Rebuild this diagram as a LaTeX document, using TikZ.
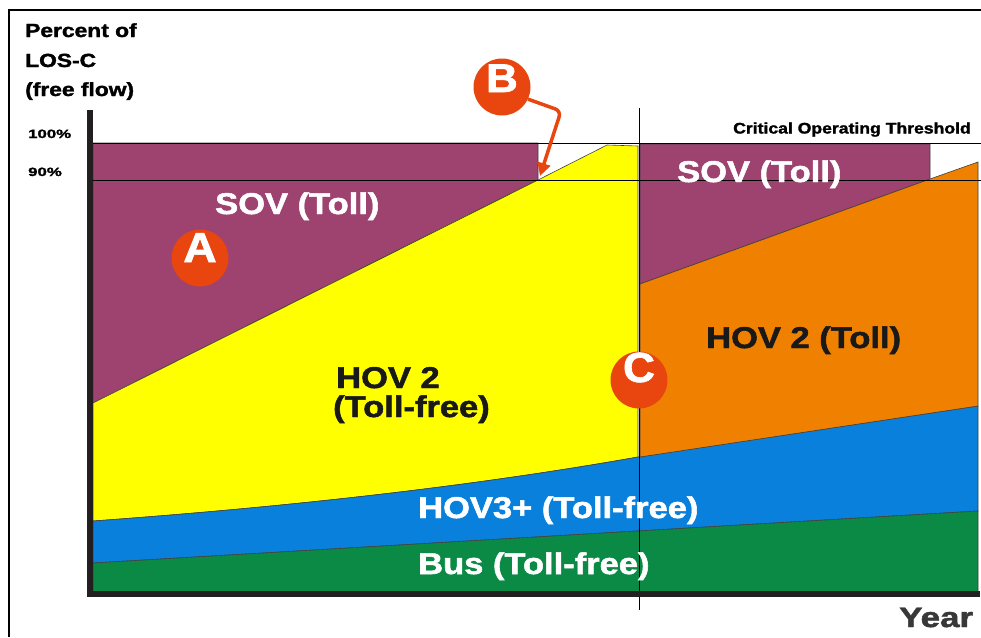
\documentclass[tikz,border=0pt]{standalone}
\usepackage{fontspec}
\setmainfont{Liberation Sans}[BoldFeatures={FakeBold=1.6}]
\usepackage{graphicx}
\usetikzlibrary{arrows.meta}
\definecolor{purp}{HTML}{9E4270}
\definecolor{yell}{HTML}{FFFF00}
\definecolor{oran}{HTML}{F08000}
\definecolor{blu}{HTML}{0880DC}
\definecolor{grn}{HTML}{0B8A45}
\definecolor{redc}{HTML}{E8450F}
\definecolor{axc}{HTML}{231F20}
\newcommand\wl[2]{\scalebox{#1}[1]{#2}}
\newcommand\fs[1]{\fontsize{#1}{#1}\selectfont\bfseries}
\begin{document}
\begin{tikzpicture}[x=1pt,y=-1pt,
  region/.style={draw=black!75,line width=0.6pt},
  thinline/.style={draw=black,line width=0.8pt},
  lbl/.style={inner sep=0pt,anchor=base west},
  badge/.style={circle,fill=redc,minimum size=57pt,inner sep=0pt},
  badgeletter/.style={inner sep=0pt,anchor=base,text=white}]
\useasboundingbox (0,0) rectangle (981,637);
% frame
\draw[line width=1.5pt] (9,637) -- (9,10) -- (981,10);
% regions
\path[region,fill=purp] (93,143) -- (538,143) -- (538,180) -- (93,403) -- cycle;
\path[region,fill=yell] (93,403) -- (538,180) -- (607,145) -- (638,146) -- (638,457)
   .. controls (480,485) and (300,506) .. (93,521) -- cycle;
\path[region,fill=blu] (93,521) .. controls (300,506) and (480,485) .. (638,457)
   -- (978,406) -- (978,511) -- (93,563) -- cycle;
\path[region,fill=grn] (93,563) -- (978,511) -- (978,594) -- (93,594) -- cycle;
\path[region,fill=purp] (640,144) -- (930,144) -- (930,179) -- (640,284) -- cycle;
\path[region,fill=oran] (640,284) -- (930,179) -- (978,162) -- (978,406) -- (640,457) -- cycle;
\draw[line width=1pt,draw=red!60!black] (93,143) -- (538,143);
% threshold lines
\draw[thinline] (93,143) -- (981,143);
\draw[thinline] (93,180) -- (981,180);
\draw[thinline] (639,108) -- (639,610);
% axes
\draw[line width=6pt,draw=axc] (90,110) -- (90,594) -- (980,594);
% axis labels
\node[lbl] (t1) at (25,37) {\fs{19}\wl{1.2}{Percent of}};
\node[lbl] (t2) at (25,67) {\fs{19}\wl{1.2}{LOS-C}};
\node[lbl] (t3) at (25,96) {\fs{19}\wl{1.2}{(free flow)}};
\node[lbl] (p100) at (28,138) {\fs{12}\wl{1.4}{100\%}};
\node[lbl] (p90) at (28,176) {\fs{12}\wl{1.4}{90\%}};
\node[lbl] (cot) at (733,133.5) {\fs{15.3}\wl{1.15}{Critical Operating Threshold}};
\node[lbl,text=black!78] (year) at (899,627) {\fs{28}\wl{1.25}{Year}};
% region labels
\node[lbl,text=white] (sovL) at (215,214) {\fs{30}\wl{1.15}{SOV (Toll)}};
\node[lbl,text=white] (sovR) at (677,182) {\fs{30}\wl{1.15}{SOV (Toll)}};
\node[lbl,text=black!90] (hovA) at (336,388) {\fs{30}\wl{1.15}{HOV 2}};
\node[lbl,text=black!90] (hovB) at (333,417) {\fs{30}\wl{1.15}{(Toll-free)}};
\node[lbl,text=black!90] (hovT) at (706,348) {\fs{30}\wl{1.15}{HOV 2 (Toll)}};
\node[lbl,text=white] (hov3) at (418,518) {\fs{30}\wl{1.15}{HOV3+ (Toll-free)}};
\node[lbl,text=white] (bus) at (418,574) {\fs{30}\wl{1.15}{Bus (Toll-free)}};
% badges
\node[badge] (cA) at (200,258) {};
\node[badgeletter] (lA) at (200,262) {\fs{42}\wl{1.1}{A}};
\node[badge] (cB) at (502,87) {};
\node[badgeletter] (lB) at (502,92) {\fs{40}\wl{1.1}{B}};
\node[badge] (cC) at (639,380) {};
\node[badgeletter] (lC) at (639,382) {\fs{42}\wl{1.05}{C}};
% arrow from B
\coordinate (btip) at (540,176);
\draw[draw=redc,line width=3.5pt,rounded corners=6pt,-{Triangle[length=13pt,width=13pt]}]
  (cB.-25) -- (561,111) -- (btip);
\end{tikzpicture}
\end{document}
